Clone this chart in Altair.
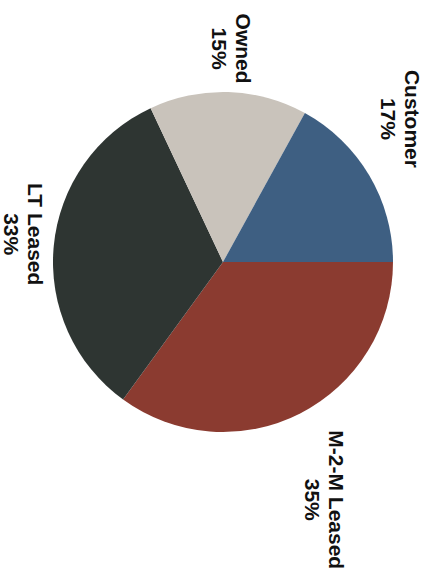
import math

import altair as alt
import pandas as pd

# Share of fleet by ownership type
categories = ["M-2-M Leased", "LT Leased", "Owned", "Customer"]
shares = [35, 33, 15, 17]
slice_colors = ["#8b3b30", "#2e3532", "#c9c3bb", "#3e5f82"]

# Layout of the pie and its labels
CX, CY = 223, 262          # pie centre
R = 170                    # pie radius
LABEL_RING = 182           # distance of the label anchor ring from the centre
FONT_SIZE = 21
LINE_HEIGHT = 24
START = math.pi / 2        # first slice starts at 3 o'clock, slices run clockwise

df = pd.DataFrame({
    "category": categories,
    "share": shares,
    "order": list(range(len(categories))),
})

theta_scale = alt.Scale(range=[START, START + 2 * math.pi])

pie = alt.Chart(df).mark_arc(radius=R).encode(
    theta=alt.Theta("share:Q", stack=True, scale=theta_scale),
    color=alt.Color(
        "category:N",
        scale=alt.Scale(domain=categories, range=slice_colors),
        legend=None,
    ),
    order=alt.Order("order:Q"),
    x=alt.value(CX),
    y=alt.value(CY),
)

half_block = (LINE_HEIGHT + 0.72 * FONT_SIZE) / 2   # half the label block across its lines
char_w = 0.6 * FONT_SIZE                             # rough bold-sans character width

# Rotated two-line labels: the first line sits on the anchor and the second
# line falls to its left, so the anchor is shifted half a line to the right
# to centre the whole block.
labels = alt.Chart(df).transform_joinaggregate(
    total="sum(share)"
).transform_window(
    cum="sum(share)", sort=[alt.SortField("order")], frame=[None, 0]
).transform_calculate(
    mid=f"{START} + 2*PI*(datum.cum - datum.share/2)/datum.total",
    ux="sin(datum.mid)",
    uy="-cos(datum.mid)",
    label="datum.category + '\\n' + datum.share + '%'",
    span=f"max(length(datum.category), 3) * {char_w}",
    lx=f"{CX} + {LABEL_RING}*datum.ux + {half_block}*clamp(2*datum.ux, -1, 1) + {LINE_HEIGHT / 2}",
    ly=f"{CY} + {LABEL_RING}*datum.uy + datum.span/2*clamp(2*datum.uy, -1, 1)",
).mark_text(
    angle=90,
    align="center",
    baseline="middle",
    lineBreak="\n",
    lineHeight=LINE_HEIGHT,
    font="Liberation Sans",
    fontWeight="bold",
    fontSize=FONT_SIZE,
    color="#111111",
).encode(
    x=alt.X("lx:Q", scale=None, axis=None),
    y=alt.Y("ly:Q", scale=None, axis=None),
    text="label:N",
)

chart = alt.layer(pie, labels).properties(
    width=433,
    height=578,
    padding=0,
    autosize="none",
    background="white",
).configure_view(stroke=None)

chart.save("out.html", embed_options={"renderer": "svg", "actions": False})
